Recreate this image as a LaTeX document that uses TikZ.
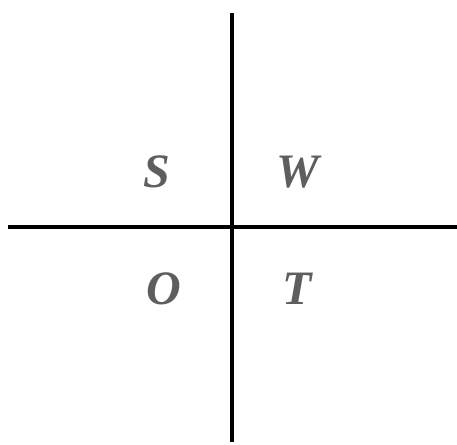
\documentclass[tikz,border=0pt]{standalone}
\usepackage{fontspec}
\setmainfont{Liberation Serif}
\begin{document}
\begin{tikzpicture}[x=1pt,y=1pt,
  axis/.style={line width=4pt},
  lbl/.style={text=lblgray,font=\fontsize{48}{56}\selectfont\bfseries\itshape,inner sep=0pt,anchor=center}]
\definecolor{lblgray}{HTML}{5E5E5E}
\useasboundingbox (0,0) rectangle (457,444);
\coordinate (top) at (232,431);
\coordinate (bot) at (232,2);
\coordinate (lft) at (8,217);
\coordinate (rgt) at (457,217);
\draw[axis] (top) -- (bot);
\draw[axis] (lft) -- (rgt);
\node[lbl] (s) at (157,272) {S};
\node[lbl] (w) at (298,272) {W};
\node[lbl] (o) at (164,155) {O};
\node[lbl] (t) at (297,155) {T};
\end{tikzpicture}
\end{document}
